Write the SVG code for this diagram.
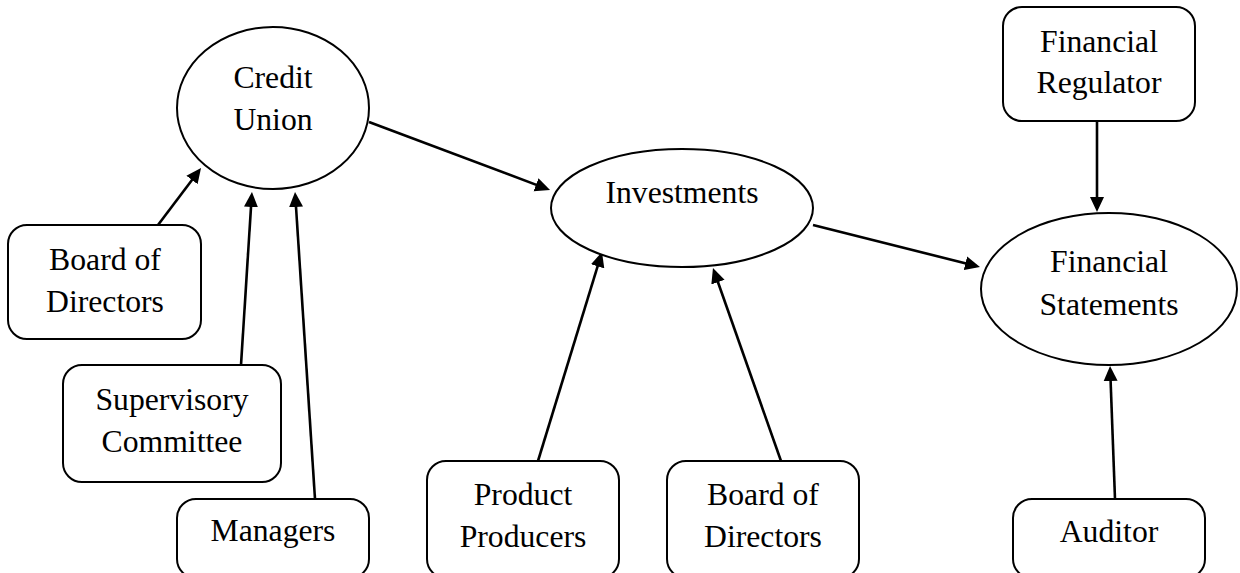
<svg xmlns="http://www.w3.org/2000/svg" width="1240" height="573" viewBox="0 0 1240 573">
<style>
  .shape { fill: #ffffff; stroke: #000000; stroke-width: 2; }
  .lbl { font-family: "Liberation Serif", "Times New Roman", serif; font-size: 31.7px; fill: #000000; text-anchor: middle; }
  .conn { stroke: #000000; stroke-width: 2.6; fill: none; marker-end: url(#arrow); }
</style>
<defs>
  <marker id="arrow" markerUnits="userSpaceOnUse" markerWidth="15" markerHeight="15" viewBox="0 0 15 14" refX="11" refY="7" orient="auto">
    <path d="M0,0 L15,7 L0,14 Z" fill="#000000"/>
  </marker>
</defs>
<rect width="1240" height="573" fill="#ffffff"/>

<g id="connectors">
  <line class="conn" x1="158" y1="225" x2="198.6" y2="171.2"/>
  <line class="conn" x1="241" y1="365" x2="251.7" y2="196"/>
  <line class="conn" x1="315" y1="499" x2="295.3" y2="196"/>
  <line class="conn" x1="369" y1="122" x2="546.3" y2="188.6"/>
  <line class="conn" x1="538" y1="461" x2="600.8" y2="255.8"/>
  <line class="conn" x1="781" y1="461" x2="714.3" y2="271.8"/>
  <line class="conn" x1="813" y1="225" x2="976.1" y2="266"/>
  <line class="conn" x1="1097" y1="121" x2="1097" y2="208"/>
  <line class="conn" x1="1115" y1="499" x2="1110.2" y2="370"/>
</g>

<g id="credit-union">
  <ellipse class="shape" cx="273" cy="108" rx="96" ry="81"/>
  <text class="lbl" x="273" y="88">Credit</text>
  <text class="lbl" x="273" y="130">Union</text>
</g>

<g id="investments">
  <ellipse class="shape" cx="682" cy="208" rx="131" ry="59"/>
  <text class="lbl" x="682" y="203">Investments</text>
</g>

<g id="financial-statements">
  <ellipse class="shape" cx="1109" cy="289" rx="128" ry="76"/>
  <text class="lbl" x="1109" y="272">Financial</text>
  <text class="lbl" x="1109" y="315">Statements</text>
</g>

<g id="board-of-directors-1">
  <rect class="shape" x="8" y="225" width="193" height="114" rx="19" ry="19"/>
  <text class="lbl" x="105" y="270">Board of</text>
  <text class="lbl" x="105" y="312">Directors</text>
</g>

<g id="supervisory-committee">
  <rect class="shape" x="63" y="365" width="218" height="117" rx="19" ry="19"/>
  <text class="lbl" x="172" y="410">Supervisory</text>
  <text class="lbl" x="172" y="452">Committee</text>
</g>

<g id="managers">
  <rect class="shape" x="177" y="499" width="192" height="79" rx="19" ry="19"/>
  <text class="lbl" x="273" y="541">Managers</text>
</g>

<g id="product-producers">
  <rect class="shape" x="427" y="461" width="192" height="117" rx="19" ry="19"/>
  <text class="lbl" x="523" y="505">Product</text>
  <text class="lbl" x="523" y="547">Producers</text>
</g>

<g id="board-of-directors-2">
  <rect class="shape" x="667" y="461" width="192" height="117" rx="19" ry="19"/>
  <text class="lbl" x="763" y="505">Board of</text>
  <text class="lbl" x="763" y="547">Directors</text>
</g>

<g id="financial-regulator">
  <rect class="shape" x="1003" y="7" width="192" height="114" rx="19" ry="19"/>
  <text class="lbl" x="1099" y="52">Financial</text>
  <text class="lbl" x="1099" y="93">Regulator</text>
</g>

<g id="auditor">
  <rect class="shape" x="1013" y="499" width="192" height="79" rx="19" ry="19"/>
  <text class="lbl" x="1109" y="542">Auditor</text>
</g>
</svg>
